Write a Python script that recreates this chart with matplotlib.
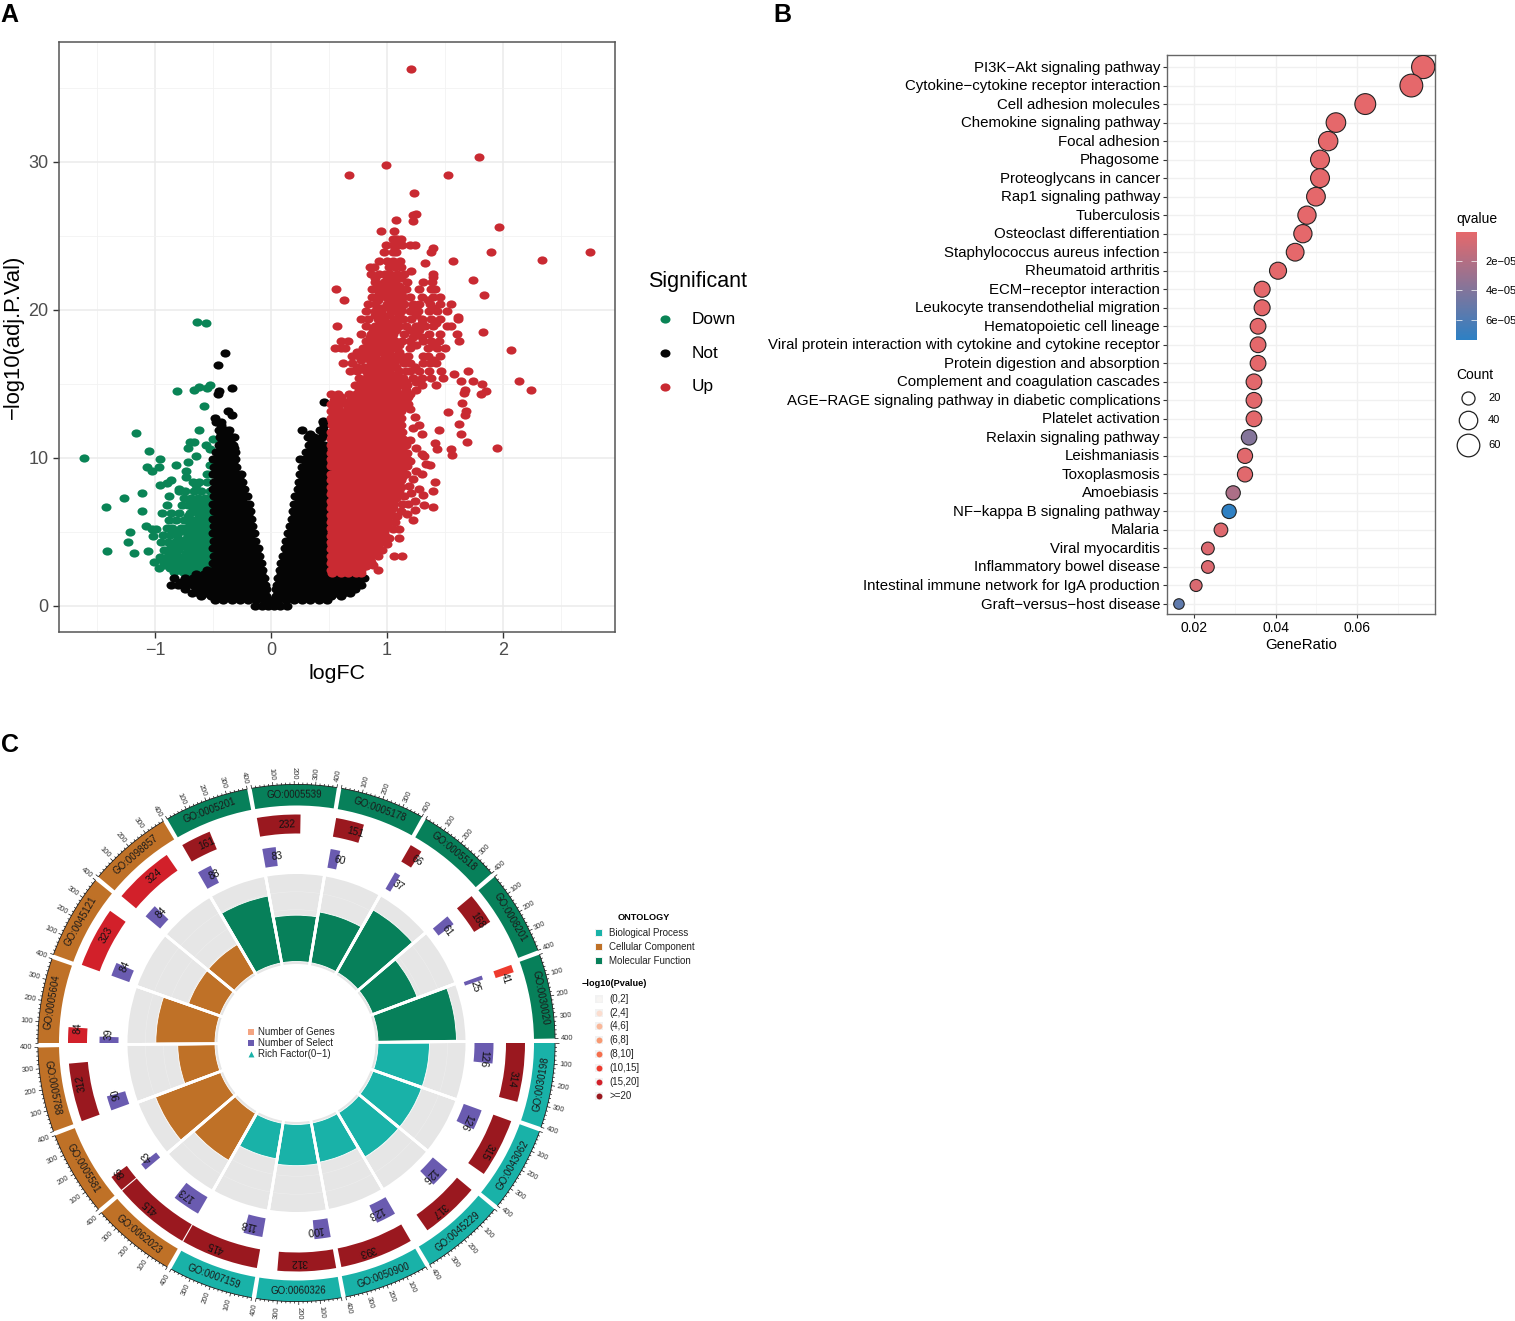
import numpy as np
import matplotlib
matplotlib.use("Agg")
import matplotlib.pyplot as plt
from matplotlib.colors import LinearSegmentedColormap, Normalize
from matplotlib.cm import ScalarMappable
from matplotlib.markers import MarkerStyle
from matplotlib.transforms import Affine2D, ScaledTranslation

plt.rcParams['font.family'] = ['Liberation Sans', 'DejaVu Sans']
plt.rcParams['axes.unicode_minus'] = True

W, H = 1515, 1321

# ---------- panel A: volcano, row by row ----------
down_y = [2.3, 2.55, 2.8, 3.05, 3.3, 3.55, 3.8, 4.05, 4.3, 4.55, 4.8, 5.05, 5.3, 5.55, 5.8, 6.05, 6.3, 6.55, 6.8, 7.05,
          7.3, 7.8, 8.4, 8.9]
down_x = [
    [-.52, -.58, -.64, -.7, -.76, -.84],
    [-.55, -.61, -.67, -.73, -.79, -.87],
    [-.53, -.6, -.66, -.73, -.8, -.86, -.92],
    [-.55, -.61, -.67, -.74, -.8, -.86, -.93],
    [-.52, -.58, -.64, -.7, -.77, -.83, -.9, -.96],
    [-.55, -.61, -.67, -.73, -.83, -.87],
    [-.53, -.6, -.66, -.72, -.8, -.85, -.92],
    [-.55, -.61, -.69, -.75, -.8, -.86],
    [-.52, -.58, -.63, -.7, -.76, -.83, -.89, -.95],
    [-.55, -.62, -.68, -.73, -.8],
    [-.53, -.6, -.66, -.72, -.81, -.87, -.93],
    [-.55, -.61, -.69, -.76, -.83],
    [-.52, -.58, -.65, -.73, -.78, -.85, -.9],
    [-.55, -.62, -.7],
    [-.53, -.6, -.67, -.75, -.82, -.88],
    [-.55, -.62, -.72],
    [-.52, -.58, -.63, -.7, -.79, -.86, -.94],
    [-.55, -.6, -.67],
    [-.53, -.6, -.66, -.72, -.77, -.9],
    [-.55, -.6, -.69],
    [-.52, -.57, -.63, -.69, -.75],
    [-.53, -.6, -.66, -.74, -.79],
    [-.55, -.62, -.67],
    [-.52, -.55],
]
down_extra_x = [-1.61, -.64, -.56, -.81, -.66, -.62, -.55, -.53, -.58, -.62, -1.16, -.7, -.66, -.72, -.5, -.56, -.53,
                -1.05, -.96, -.97, -1.07, -1.03, -.82, -.65, -.72, -.73, -.73, -.86, -.9, -.96, -1.11, -1.27, -1.42,
                -1.11, -.88, -1.22, -1.23, -1.41, -1.18, -1.08, -1.03, -.99, -1.02, -1.06, -1.01, -.97, -.53, -.65, -.79]
down_extra_y = [10, 19.2, 19.1, 14.5, 14.6, 14.8, 14.7, 14.9, 13.5, 11.9, 11.7, 11.1, 11.1, 10.7, 11.3, 10.9, 10.6,
                10.5, 9.9, 9.4, 9.4, 9.1, 9.5, 10.1, 9.7, 9.1, 8.7, 8.5, 8.3, 8.2, 7.6, 7.3, 6.7,
                6.4, 7.4, 5.0, 4.3, 3.7, 3.6, 5.4, 5.2, 5.2, 4.7, 3.7, 3.0, 2.6, 9.5, 8.2, 7.9]

not_y = [0, .4, .9, 1.4, 1.9, 2.4, 2.9, 3.4, 3.9, 4.4, 4.9, 5.4, 5.9, 6.4, 6.9, 7.4, 7.9, 8.4, 8.9, 9.4, 9.9, 10.4,
         10.9, 11.4, 11.9, 12.4,
         .65, 1.15, 1.65, 2.15, 2.65, 3.15, 3.65, 4.15, 4.65, 5.15, 5.65, 6.15, 6.65, 7.15, 7.65, 8.15, 8.65, 9.15,
         9.65, 10.15, 10.65, 11.15, 11.65]
not_x = [
    [-.14, -.08, -.03, .03, .08, .14],
    [-.48, -.41, -.34, -.27, -.2, -.13, -.06, 0, .06, .13, .2, .27, .34, .41, .48],
    [-.68, -.62, -.55, -.48, -.41, -.34, -.27, -.2, -.13, -.06, .06, .13, .2, .27, .34, .41, .48, .55, .62, .68],
    [-.86, -.8, -.74, -.67, -.6, -.53, -.46, -.39, -.32, -.25, -.18, -.11, -.05, .05, .11, .18, .25, .32, .39, .46,
     .53, .6, .67, .74, .78],
    [-.84, -.74, -.67, -.6, -.53, -.46, -.39, -.32, -.25, -.18, -.11, -.06, .06, .11, .18, .25, .32, .39, .46, .53,
     .6, .67, .74, .8],
    [-.55, -.49, -.42, -.35, -.28, -.21, -.14, -.08, .08, .14, .21, .28, .35, .42, .47],
    [-.5, -.43, -.36, -.29, -.22, -.15, -.09, .09, .15, .22, .29, .36, .43, .48],
    [-.49, -.42, -.35, -.28, -.21, -.14, -.1, .1, .16, .23, .3, .37, .44, .48],
    [-.5, -.43, -.36, -.29, -.22, -.15, -.11, .12, .18, .25, .32, .39, .46],
    [-.49, -.42, -.35, -.28, -.21, -.14, .13, .19, .26, .33, .4, .47],
    [-.5, -.43, -.36, -.29, -.22, -.15, .15, .21, .28, .35, .42, .48],
    [-.49, -.42, -.35, -.28, -.21, -.16, .16, .22, .29, .36, .43, .48],
    [-.5, -.43, -.36, -.29, -.22, -.17, .18, .24, .31, .38, .45],
    [-.49, -.42, -.35, -.28, -.21, -.18, .19, .25, .32, .39, .46],
    [-.5, -.43, -.36, -.29, -.23, -.19, .2, .26, .33, .4, .47],
    [-.49, -.42, -.35, -.28, -.21, .21, .27, .34, .41, .48],
    [-.5, -.43, -.36, -.29, -.23, .23, .29, .36, .43, .49],
    [-.49, -.42, -.35, -.29, -.25, .24, .3, .37, .44, .48],
    [-.5, -.43, -.36, -.3, -.26, .25, .31, .38, .45],
    [-.49, -.42, -.35, -.3, .27, .33, .4, .47],
    [-.5, -.43, -.36, -.31, .25, .29, .35, .42, .48],
    [-.47, -.41, -.35, -.31, .3, .36, .43, .48],
    [-.45, -.39, -.33, .33, .39, .46],
    [-.44, -.38, -.32, .32, .37, .44],
    [-.45, -.4, -.36, .27, .42, .45],
    [-.47, -.43, .45],
    [-.6, -.52, -.45, -.38, -.31, -.24, -.17, -.1, -.04, .04, .1, .17, .24, .31, .38, .45, .52, .6],
    [-.74, -.65, -.58, -.51, -.44, -.37, -.3, -.23, -.16, -.09, -.04, .04, .09, .16, .23, .3, .37, .44, .51, .58, .65,
     .72],
    [-.78, -.7, -.63, -.56, -.49, -.42, -.35, -.28, -.21, -.14, -.08, .08, .14, .21, .28, .35, .42, .49, .56, .63, .7,
     .76],
    [-.65, -.58, -.51, -.44, -.37, -.3, -.23, -.16, -.09, .09, .16, .23, .3, .37, .44, .5, .56, .62, .7],
    [-.46, -.39, -.32, -.25, -.18, -.11, .11, .18, .25, .32, .39, .46],
    [-.46, -.39, -.32, -.25, -.18, -.12, .12, .18, .25, .32, .39, .46],
    [-.46, -.39, -.32, -.25, -.18, -.13, .14, .2, .27, .34, .41, .47],
    [-.46, -.39, -.32, -.25, -.18, .15, .22, .29, .36, .43],
    [-.46, -.39, -.32, -.25, -.18, .17, .24, .31, .38, .45],
    [-.46, -.39, -.32, -.25, -.19, .18, .25, .32, .39, .46],
    [-.46, -.39, -.32, -.25, -.2, .2, .27, .34, .41, .47],
    [-.46, -.39, -.32, -.25, -.2, .21, .28, .35, .42, .48],
    [-.46, -.39, -.32, -.25, -.21, .22, .29, .36, .43, .48],
    [-.46, -.39, -.32, -.25, .24, .3, .37, .44],
    [-.46, -.39, -.32, -.26, .25, .32, .39, .46],
    [-.46, -.39, -.32, -.27, .26, .33, .4, .47],
    [-.46, -.39, -.33, -.28, .28, .34, .41, .47],
    [-.46, -.39, -.33, .29, .36, .43, .48],
    [-.46, -.39, -.33, .3, .37, .44],
    [-.45, -.39, -.33, .33, .39, .46],
    [-.43, -.37, -.32, .36, .42, .47],
    [-.42, -.35, .35, .41],
    [-.43, -.37, .34, .45],
]
not_extra_x = [-.4, -.46, -.45, -.46, -.34, -.37, -.34, -.48, -.43, .46, .445, .46]
not_extra_y = [17.1, 16.3, 14.5, 14.3, 14.7, 13.2, 12.9, 12.7, 12.2, 13.8, 12.5, 12.2]

up_y = [2.2, 2.7, 3.1, 3.6, 4.1, 4.5, 5.0, 5.5, 5.9, 6.4, 6.9, 7.3, 7.8, 8.3, 8.7, 9.2, 9.7, 10.1, 10.6, 11.1, 11.5,
        12, 12.5, 12.9, 13.4, 13.9, 14.3, 14.9, 15.4, 15.9, 16.4, 16.9, 17.4, 17.9, 18.4, 18.9, 19.4, 19.9, 20.4,
        20.9, 21.4, 21.9, 22.4, 22.9, 23.3, 23.9, 24.4]
up_x = [
    [.53, .6, .66, .73, .78],
    [.56, .63, .7, .76, .82],
    [.53, .6, .66, .73, .8, .85],
    [.56, .63, .7, .76, .83, .9],
    [.53, .6, .66, .73, .8, .87, .92],
    [.56, .63, .7, .76, .83, .9, .95],
    [.53, .6, .66, .73, .8, .87, .93, .97],
    [.56, .63, .7, .76, .83, .9, .96, 1.0],
    [.53, .6, .66, .73, .8, .87, .93, 1.0],
    [.56, .63, .7, .76, .83, .9, .96, 1.03],
    [.53, .6, .66, .73, .8, .87, .93, 1.0, 1.05],
    [.56, .63, .7, .76, .83, .9, .96, 1.03, 1.08],
    [.53, .6, .66, .73, .8, .87, .93, 1.0, 1.07, 1.1],
    [.56, .63, .7, .76, .83, .9, .96, 1.03, 1.1],
    [.53, .6, .66, .73, .8, .87, .93, 1.0, 1.07, 1.13],
    [.56, .63, .7, .76, .83, .9, .96, 1.03, 1.1, 1.13],
    [.53, .6, .66, .73, .8, .87, .93, 1.0, 1.07, 1.13],
    [.56, .63, .7, .76, .83, .9, .96, 1.03, 1.1, 1.14],
    [.53, .6, .66, .73, .8, .87, .93, 1.0, 1.07, 1.13],
    [.56, .63, .7, .76, .83, .9, .96, 1.03, 1.1, 1.12],
    [.53, .6, .66, .73, .8, .87, .93, 1.0, 1.07, 1.11],
    [.56, .63, .7, .76, .83, .9, .96, 1.03, 1.1],
    [.53, .6, .66, .73, .8, .87, .93, 1.0, 1.07, 1.1],
    [.55, .63, .7, .76, .83, .9, .96, 1.03, 1.08],
    [.58, .66, .73, .8, .87, .93, 1.0, 1.07, 1.13],
    [.54, .6, .68, .75, .82, .88, .95, 1.02, 1.08, 1.16],
    [.52, .58, .67, .73, .8, .86, .92, .98, 1.05, 1.12, 1.2],
    [.72, .78, .85, .92, .98, 1.05, 1.12, 1.17, 1.3, 1.42],
    [.76, .82, .88, .94, 1.0, 1.06, 1.14, 1.22, 1.3, 1.38, 1.48],
    [.68, .74, .82, .9, .96, 1.02, 1.1, 1.16, 1.2, 1.28, 1.36, 1.47],
    [.62, .7, .86, .93, .98, 1.06, 1.15, 1.2, 1.31, 1.37, 1.42],
    [.7, .76, .82, .9, .98, 1.05, 1.12, 1.18, 1.31, 1.35, 1.46],
    [.55, .6, .64, .79, .85, .92, .99, 1.04, 1.2, 1.35, 1.43, 1.5],
    [.6, .66, .82, .88, .94, 1.0, 1.07, 1.13, 1.2, 1.31, 1.38, 1.45, 1.62],
    [.78, .86, .93, 1.0, 1.05, 1.15, 1.24, 1.36, 1.46, 1.6],
    [.82, .9, .96, 1.03, 1.1, 1.16, 1.25, 1.33, 1.4, 1.52, 1.55],
    [.78, .84, .92, .97, 1.06, 1.14, 1.21, 1.3, 1.38, 1.46, 1.61],
    [.82, .9, .95, 1.06, 1.12, 1.2, 1.27, 1.36, 1.43, 1.52],
    [.84, .9, 1.0, 1.08, 1.15, 1.22, 1.28, 1.37, 1.46, 1.55],
    [.87, .93, .99, 1.07, 1.14, 1.2, 1.3, 1.4, 1.46],
    [.87, .95, 1.0, 1.06, 1.16, 1.28, 1.38, 1.41],
    [.9, .97, 1.02, 1.07, 1.17, 1.31, 1.39],
    [.86, .93, .98, 1.03, 1.09, 1.15, 1.4],
    [.85, .89, 1.02, 1.07, 1.12],
    [.93, 1.0, 1.05, 1.11],
    [.97, 1.05, 1.08],
    [.99, 1.05, 1.09, 1.13, 1.2, 1.24],
]
# rows in between, where the red mass is solid
up_mid_y = [2.45, 2.9, 3.35, 3.85, 4.3, 4.75, 5.25, 5.7, 6.15, 6.65, 7.1, 7.55, 8.05, 8.5, 8.95, 9.45, 9.9, 10.35,
            10.85, 11.3, 11.75, 12.25, 12.7, 13.15, 13.65, 14.1, 14.6, 15.15, 15.65, 16.15, 16.65, 17.15, 17.65,
            18.15, 18.65, 19.15, 19.65, 20.15, 20.65, 21.15, 21.65, 22.15, 24.8]
up_mid_x = [
    [.52, .58, .65, .72, .78],
    [.52, .58, .65, .72, .78, .83],
    [.52, .58, .65, .72, .78, .85],
    [.52, .58, .65, .72, .78, .85, .9],
    [.52, .58, .65, .72, .78, .85, .92],
    [.52, .58, .65, .72, .78, .85, .92, .98],
    [.52, .58, .65, .72, .78, .85, .92, .98],
    [.52, .58, .65, .72, .78, .85, .92, .98, 1.02],
    [.52, .58, .65, .72, .78, .85, .92, .98, 1.04],
    [.52, .58, .65, .72, .78, .85, .92, .98, 1.05],
    [.52, .58, .65, .72, .78, .85, .92, .98, 1.05],
    [.52, .58, .65, .72, .78, .85, .92, .98, 1.05, 1.1],
    [.52, .58, .65, .72, .78, .85, .92, .98, 1.05, 1.12],
    [.52, .58, .65, .72, .78, .85, .92, .98, 1.05, 1.12],
    [.52, .58, .65, .72, .78, .85, .92, .98, 1.05, 1.12, 1.16],
    [.52, .58, .65, .72, .78, .85, .92, .98, 1.05, 1.12, 1.17],
    [.52, .58, .65, .72, .78, .85, .92, .98, 1.05, 1.12, 1.17],
    [.52, .58, .65, .72, .78, .85, .92, .98, 1.05, 1.12, 1.17],
    [.52, .58, .65, .72, .78, .85, .92, .98, 1.05, 1.12, 1.16],
    [.52, .58, .65, .72, .78, .85, .92, .98, 1.05, 1.12, 1.14],
    [.52, .58, .65, .72, .78, .85, .92, .98, 1.05, 1.12, 1.13],
    [.53, .58, .65, .72, .78, .85, .92, .98, 1.05, 1.12],
    [.52, .58, .65, .72, .78, .85, .92, .98, 1.05, 1.12],
    [.52, .58, .65, .72, .78, .85, .92, .98, 1.05, 1.12],
    [.52, .58, .65, .72, .78, .85, .92, .98, 1.05, 1.12, 1.18],
    [.6, .72, .78, .85, .92, .98, 1.05, 1.12, 1.18],
    [.76, .82, .88, .95, 1.02, 1.08, 1.16, 1.25],
    [.8, .86, .92, .98, 1.04, 1.1, 1.16, 1.25],
    [.84, .9, .96, 1.03, 1.09],
    [.74, .8, .88, .95, 1.02, 1.08, 1.24],
    [.78, .85, .93, 1.0, 1.08, 1.14, 1.4],
    [.74, .82, .88, .96, 1.02, 1.1],
    [.84, .9, .97, 1.04, 1.1, 1.25, 1.4],
    [.85, .92, .98, 1.04, 1.22, 1.3],
    [.88, .95, 1.0, 1.08, 1.2, 1.28],
    [.94, 1.0, 1.08, 1.3, 1.42],
    [.9, .96, 1.02, 1.1, 1.25],
    [.95, 1.02, 1.12, 1.22, 1.4],
    [.92, 1.02, 1.12, 1.35],
    [.93, 1.0, 1.04, 1.12],
    [.93, .99, 1.05, 1.1],
    [.9, 1.0, 1.06, 1.12],
    [1.05, 1.07, 1.09, 1.12],
]
up_extra_x = [1.21, 1.79, .99, .67, 1.53, 1.23, 1.22, 1.25, 1.22, 1.97, 1.08, .95, 1.06, 1.9, 2.75, 2.34, 1.57, 1.33,
              1.4, 1.38, 1.74, 1.84, .56, .63, 1.21, 1.4, 1.61, 1.83, 2.07, 2.14, 2.24, 1.95, .57, 1.7, 1.74, 1.58,
              1.64, 1.82, 1.85, 1.81, 1.67, 1.66, 1.53, 1.65, 1.68, 1.67, 1.62, 1.64, 1.69, 1.55, 1.56, 1.45, 1.41,
              1.43, 1.4, 1.32, 1.4, 1.31, 1.41, 1.37, 1.32, 1.24, 1.17, 1.22, 1.1, 1.1, 1.13, 1.06, .92, .86,
              1.2, 1.24, 1.28, 1.22, 1.3, 1.2, 1.25, 1.3, 1.2, 1.34, 1.25, 1.3, 1.22, 1.19, 1.28, 1.21, 1.15, 1.24,
              1.13, 1.12, 1.18, 1.09, 1.07, 1.05, 1.02, 1.0, .96, .92, .88]
up_extra_y = [36.3, 30.3, 29.8, 29.1, 29.1, 27.9, 26.4, 26.5, 26.0, 25.6, 26.1, 25.3, 25.3, 23.9, 23.9, 23.4, 23.3, 23.2,
              24.2, 23.9, 22.0, 21.0, 21.4, 20.7, 22.6, 22.2, 19.5, 18.5, 17.3, 15.2, 14.6, 10.7, 18.9, 15.9, 15.2, 15.7,
              15.2, 15.0, 14.5, 14.3, 14.6, 14.4, 13.1, 13.7, 13.2, 12.9, 12.3, 11.6, 11.1, 10.6, 10.2, 11.9, 11.0,
              10.6, 6.7, 6.8, 7.8, 7.5, 8.4, 9.5, 10.1, 6.5, 6.2, 5.8, 5.2, 4.6, 3.4, 3.4, 2.4, 3.0,
              13.3, 12.8, 12.2, 12.0, 11.6, 11.2, 10.7, 10.3, 9.8, 9.6, 9.1, 8.9, 8.6, 8.1, 7.9, 7.6, 7.4, 7.1,
              6.9, 6.4, 6.9, 6.1, 5.7, 5.2, 4.6, 4.2, 3.8, 3.4, 2.8]

significant_labels = ['Down', 'Not', 'Up']
significant_colors = ['#0A8456', '#050505', '#C92A32']

# ---------- panel B: KEGG dot plot ----------
pathways = ['PI3K−Akt signaling pathway', 'Cytokine−cytokine receptor interaction', 'Cell adhesion molecules',
            'Chemokine signaling pathway', 'Focal adhesion', 'Phagosome', 'Proteoglycans in cancer',
            'Rap1 signaling pathway', 'Tuberculosis', 'Osteoclast differentiation', 'Staphylococcus aureus infection',
            'Rheumatoid arthritis', 'ECM−receptor interaction', 'Leukocyte transendothelial migration',
            'Hematopoietic cell lineage', 'Viral protein interaction with cytokine and cytokine receptor',
            'Protein digestion and absorption', 'Complement and coagulation cascades',
            'AGE−RAGE signaling pathway in diabetic complications', 'Platelet activation',
            'Relaxin signaling pathway', 'Leishmaniasis', 'Toxoplasmosis', 'Amoebiasis', 'NF−kappa B signaling pathway',
            'Malaria', 'Viral myocarditis', 'Inflammatory bowel disease', 'Intestinal immune network for IgA production',
            'Graft−versus−host disease']
gene_ratio = [.0762, .0733, .0620, .0548, .0529, .0509, .0509, .0499, .0477, .0467, .0448, .0406, .0367, .0367, .0357,
              .0357, .0357, .0347, .0347, .0347, .0335, .0325, .0325, .0296, .0286, .0266, .0234, .0234, .0205, .0163]
gene_count = [63, 61, 51, 45, 44, 42, 42, 41, 39, 39, 37, 34, 30, 30, 29, 29, 29, 29, 29, 29, 28, 27, 27, 24, 24, 22,
               19, 19, 17, 13]
qvalue = [1e-7, 1e-7, 1e-7, 1e-7, 1e-7, 1e-7, 1e-7, 2e-7, 2e-7, 2e-7, 2e-7, 3e-7, 4e-7, 4e-7, 5e-7, 5e-7, 5e-7, 1e-6,
          1e-6, 1e-6, 3.9e-5, 2e-6, 2e-6, 2.3e-5, 7.3e-5, 3e-6, 4e-6, 4e-6, 5e-6, 5.4e-5]
count_legend = [20, 40, 60]
q_ticks = [2e-5, 4e-5, 6e-5]
q_tick_labels = ['2e−05', '4e−05', '6e−05']

# ---------- panel C: GO circle ----------
go_ids = ['GO:0030198', 'GO:0043062', 'GO:0045229', 'GO:0050900', 'GO:0060326', 'GO:0007159',
          'GO:0062023', 'GO:0005581', 'GO:0005788', 'GO:0005604', 'GO:0045121', 'GO:0098857',
          'GO:0005201', 'GO:0005539', 'GO:0005178', 'GO:0005518', 'GO:0008201', 'GO:0030020']
go_group = ['BP'] * 6 + ['CC'] * 6 + ['MF'] * 6
go_genes = [314, 315, 317, 393, 312, 415, 415, 86, 312, 84, 323, 324, 161, 232, 151, 66, 168, 41]
go_select = [126, 126, 126, 123, 100, 118, 173, 43, 90, 39, 84, 84, 88, 83, 60, 37, 61, 25]
go_rich = [.40, .40, .40, .31, .32, .28, .42, .54, .29, .46, .26, .26, .53, .36, .40, .56, .37, .61]
go_pclass = ['>=20'] * 9 + ['(15,20]'] * 3 + ['>=20'] * 5 + ['(10,15]']
axis_ticks = [100, 200, 300, 400]
p_classes = ['(0,2]', '(2,4]', '(4,6]', '(6,8]', '(8,10]', '(10,15]', '(15,20]', '>=20']
p_colors = ['#F7F5F3', '#FBDDCF', '#F9B89A', '#F79972', '#F56F4D', '#EE3B2E', '#D2202A', '#9A181F']
group_names = ['Biological Process', 'Cellular Component', 'Molecular Function']
group_colors = {'BP': '#19B2A8', 'CC': '#BF7127', 'MF': '#07805A'}
select_color = '#6A5BB0'


def px_axes(fig, left, top, right, bottom, **kw):
    return fig.add_axes([left / W, 1 - bottom / H, (right - left) / W, (bottom - top) / H], **kw)


def expand(rows_y, rows_x, extra_x, extra_y):
    xs = [v for row in rows_x for v in row] + extra_x
    ys = [y for y, row in zip(rows_y, rows_x) for _ in row] + extra_y
    return xs, ys


fig = plt.figure(figsize=(W / 100, H / 100), dpi=100)

# panel A
ax = px_axes(fig, 59, 42, 615, 632)
ax.set_xlim(-1.828, 2.966)
ax.set_ylim(-1.757, 38.1)
dot = MarkerStyle('o', transform=Affine2D().scale(1, .82))
series = [expand(down_y, down_x, down_extra_x, down_extra_y),
          expand(not_y, not_x, not_extra_x, not_extra_y),
          expand(up_y + up_mid_y, up_x + up_mid_x, up_extra_x, up_extra_y)]
for (xs, ys), col in zip(series, significant_colors):
    ax.scatter(xs, ys, s=52, marker=dot, c=col, linewidths=0, zorder=3)
ax.set_xticks([-1, 0, 1, 2], ['−1', '0', '1', '2'])
ax.set_yticks([0, 10, 20, 30])
ax.set_xticks([-1.5, -.5, .5, 1.5, 2.5], minor=True)
ax.set_yticks([5, 15, 25, 35], minor=True)
ax.grid(True, which='major', color='#EBEBEB', lw=1.1)
ax.grid(True, which='minor', color='#F2F2F2', lw=.6)
ax.set_axisbelow(True)
ax.tick_params(which='major', labelsize=13, labelcolor='#4D4D4D', color='#333333', length=4, width=1)
ax.tick_params(which='minor', length=0)
ax.set_xlabel('logFC', fontsize=15.4, labelpad=3)
ax.set_ylabel('−log10(adj.P.Val)', fontsize=15.8, labelpad=3)
for s in ax.spines.values():
    s.set_color('#555555')
    s.set_linewidth(1.1)

# panel B
bx = px_axes(fig, 1167, 55, 1435, 614)
bx.set_xlim(.01337, .0791)
bx.set_ylim(29.54, -.65)
ypos = np.arange(len(pathways))
q_cmap = LinearSegmentedColormap.from_list('q', ['#E5686B', '#2D80C4'])
q_norm = Normalize(0, 7.4e-5)
sizes = [(2.92 * np.sqrt(c) * .72) ** 2 for c in gene_count]
bx.scatter(gene_ratio, ypos, s=sizes, c=qvalue, cmap=q_cmap, norm=q_norm, edgecolors='#222222', linewidths=.8, zorder=3)
bx.set_yticks(ypos, pathways)
bx.set_xticks([.02, .04, .06], ['0.02', '0.04', '0.06'])
bx.set_xticks([.03, .05, .07], minor=True)
bx.grid(True, which='major', color='#F0F0F0', lw=1)
bx.grid(True, which='minor', axis='x', color='#F6F6F6', lw=.6)
bx.set_axisbelow(True)
bx.tick_params(axis='y', labelsize=10.8, length=3, pad=2, color='#333333')
bx.tick_params(axis='x', labelsize=10, length=3, pad=2, color='#333333')
bx.tick_params(which='minor', length=0)
bx.set_xlabel('GeneRatio', fontsize=10.8, labelpad=2)
up_1px = ScaledTranslation(0, .01, fig.dpi_scale_trans)
for lab in bx.get_yticklabels():
    lab.set_transform(lab.get_transform() + up_1px)
for s in bx.spines.values():
    s.set_color('#666666')
    s.set_linewidth(1)

cax = px_axes(fig, 1456, 232, 1477, 340)
cb = fig.colorbar(ScalarMappable(norm=q_norm, cmap=q_cmap), cax=cax)
cb.ax.invert_yaxis()
cb.outline.set_visible(False)
cb.set_ticks(q_ticks, labels=q_tick_labels)
cb.ax.tick_params(direction='in', color='white', length=4, width=.5, left=True, right=True,
                  labelsize=8, pad=6)

# panel C
R = 282
px_c, py_c = 296.5, 1043
cx = px_axes(fig, px_c - R, py_c - R, px_c + R, py_c + R, projection='polar')
cx.set_theta_zero_location('E')
cx.set_theta_direction(-1)
cx.set_rlim(0, R)
cx.axis('off')
cx.patch.set_alpha(0)

per_unit = .0475  # degrees of arc for one gene
sector_arc = 19
for i, go in enumerate(go_ids):
    start = i * 20
    col = group_colors[go_group[i]]
    t0, arc = np.deg2rad(start), np.deg2rad(sector_arc)
    # outer band and axis
    cx.bar(t0, 21, arc, bottom=237.5, align='edge', color=col, lw=0)
    cx.bar(t0, .8, arc, bottom=258.2, align='edge', color='#111111', lw=0)
    for v in range(0, 401, 20):
        th = np.deg2rad(start + v * per_unit)
        top = 262 if v % 100 == 0 else 260.5
        cx.plot([th, th], [258.5, top], color='#111111', lw=.5, solid_capstyle='butt')
    for v in axis_ticks:
        a = start + v * per_unit
        if np.cos(np.deg2rad(a)) >= 0:
            rot, ha = -a, 'left'
        else:
            rot, ha = 180 - a, 'right'
        cx.text(np.deg2rad(a), 264, str(v), fontsize=5.5, color='#333333', rotation=rot, ha=ha, va='center',
                rotation_mode='anchor')
    # GO id on the band
    mid = start + sector_arc / 2
    rot = 90 - mid if mid < 180 else -mid - 90
    cx.text(np.deg2rad(mid), 248, go, fontsize=7, color='#1A1A1A', rotation=rot, ha='center', va='center',
            rotation_mode='anchor')
    # genes and selected genes
    cls_col = p_colors[p_classes.index(go_pclass[i])]
    for val, base, c in [(go_genes[i], 209.5, cls_col), (go_select[i], 178, select_color)]:
        cx.bar(t0, 19, np.deg2rad(val * per_unit), bottom=base, align='edge', color=c, lw=0)
        a = start + (val / 2 + 40) * per_unit
        cx.text(np.deg2rad(a), base + 9.5, str(val), fontsize=7.4, color='#111111', rotation=-a - 90, ha='center',
                va='center', rotation_mode='anchor', zorder=5)
    # rich factor track
    cx.bar(t0, 90, arc, bottom=79, align='edge', color='#E6E6E6', lw=0)
    for rr in [98, 116, 133, 151]:
        cx.bar(t0, .5, arc, bottom=rr, align='edge', color='#EEEEEE', lw=0)
    cx.bar(t0, go_rich[i] / .68 * 87.5, arc, bottom=81.5, align='edge', color=col, edgecolor='white', lw=.6, zorder=3)
    # white edges make the gaps between sectors as wide as in the figure
    for ang in [start - .5, start + sector_arc + .5]:
        cx.plot([np.deg2rad(ang)] * 2, [78, 170], color='white', lw=2, zorder=4, solid_capstyle='butt')

# overlay for legends and panel letters, in figure pixels
ov = fig.add_axes([0, 0, 1, 1], zorder=10)
ov.set_xlim(0, W)
ov.set_ylim(H, 0)
ov.axis('off')
for letter, lx, ly in [('A', 0, 15), ('B', 773, 15), ('C', 1, 745)]:
    ov.text(lx, ly, letter, fontsize=18, fontweight='bold', va='center', ha='left')

ov.text(648, 282, 'Significant', fontsize=15.5, va='center')
for lab, col, ly in zip(significant_labels, significant_colors, [319, 353, 387]):
    ov.scatter([665], [ly], s=52, marker=dot, c=col, linewidths=0)
    ov.text(692, ly, lab, fontsize=12.4, va='center')

ov.text(1456, 219, 'qvalue', fontsize=10, va='center')
ov.text(1456, 375, 'Count', fontsize=10, va='center')
for c, ly in zip(count_legend, [398, 420, 445]):
    ov.scatter([1468], [ly], s=(2.92 * np.sqrt(c) * .72) ** 2, facecolors='white', edgecolors='#222222', linewidths=.9)
    ov.text(1488, ly, str(c), fontsize=8, va='center')

ov.text(644, 917, 'ONTOLOGY', fontsize=6.6, fontweight='bold', ha='center', va='center')
for name, key, ly in zip(group_names, ['BP', 'CC', 'MF'], [933, 947, 961]):
    ov.scatter([599], [ly], s=36, marker='s', c='#F2F2F2', linewidths=0)
    ov.scatter([599], [ly], s=14, marker='s', c=group_colors[key], linewidths=0)
    ov.text(609, ly, name, fontsize=7, color='#222222', va='center')
ov.text(582, 983, '−log10(Pvalue)', fontsize=6.6, fontweight='bold', va='center')
for name, col, ly in zip(p_classes, p_colors, [999, 1013, 1026, 1040, 1054, 1068, 1082, 1096]):
    ov.scatter([599], [ly], s=36, marker='s', c='#F2F2F2', linewidths=0)
    ov.scatter([599], [ly], s=18, marker='o', c=col, linewidths=0)
    ov.text(609, ly, name, fontsize=7, color='#222222', va='center')

center_keys = [('Number of Genes', 's', '#F4A582'), ('Number of Select', 's', select_color),
               ('Rich Factor(0−1)', '^', '#19B2A8')]
for (name, mk, col), ly in zip(center_keys, [1032, 1043, 1054]):
    ov.scatter([251], [ly], s=18, marker=mk, c=col, linewidths=0)
    ov.text(258, ly, name, fontsize=7, color='#222222', va='center')

fig.savefig('out.png', dpi=100)
